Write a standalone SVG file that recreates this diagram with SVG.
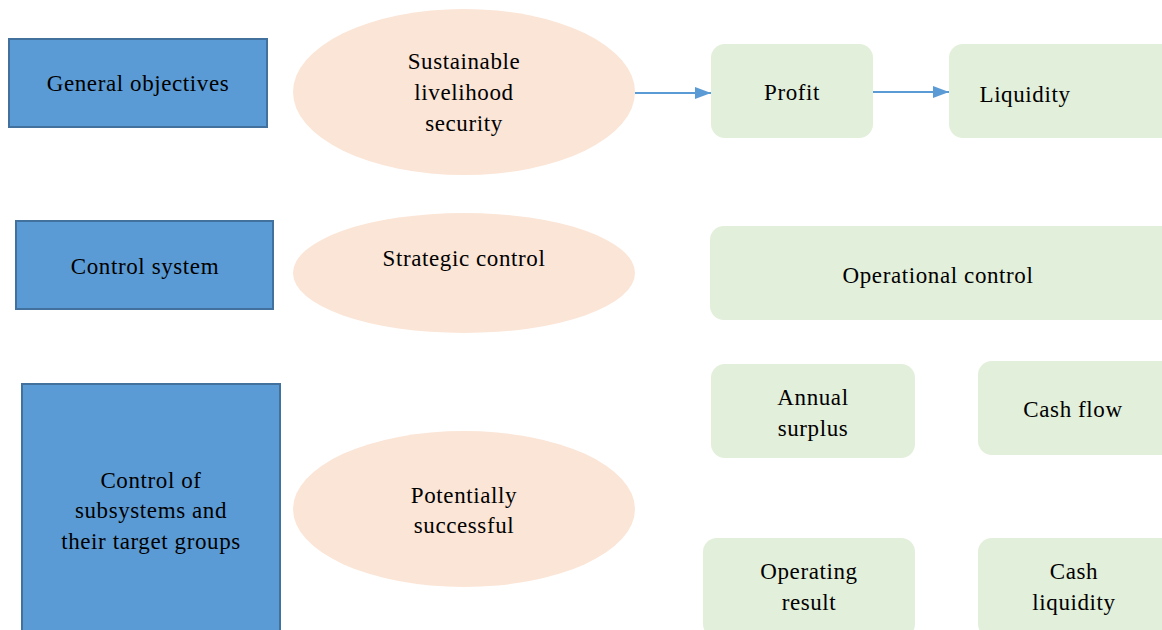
<svg xmlns="http://www.w3.org/2000/svg" width="1162" height="630" viewBox="0 0 1162 630">
<defs>
<style>
.blue{fill:#5b9bd5;stroke:#41719c;stroke-width:2}
.oval{fill:#fbe5d6}
.green{fill:#e2efda}
.conn{stroke:#5b9bd5;stroke-width:2;fill:none}
</style>
<marker id="arr" markerWidth="16" markerHeight="16" refX="16" refY="8" orient="auto" markerUnits="userSpaceOnUse">
<path d="M0,2 L16,8 L0,14 Z" fill="#5b9bd5"/>
</marker>
</defs>
<rect width="1162" height="630" fill="#fff"/>
<g font-family="'Liberation Serif', 'DejaVu Serif', serif" font-size="23" letter-spacing="0.6" fill="#000" text-anchor="middle">
<g id="general-objectives"><rect class="blue" x="9" y="39" width="258" height="88"/><text x="138" y="91">General objectives</text></g>
<g id="control-system"><rect class="blue" x="16" y="221" width="257" height="88"/><text x="145" y="274">Control system</text></g>
<g id="control-subsystems"><rect class="blue" x="22" y="384" width="258" height="256"/><text x="151" y="488">Control of</text><text x="151" y="518">subsystems and</text><text x="151" y="549">their target groups</text></g>
<g id="sustainable"><ellipse class="oval" cx="464" cy="92" rx="171" ry="83"/><text x="464" y="69">Sustainable</text><text x="464" y="100">livelihood</text><text x="464" y="131">security</text></g>
<g id="strategic"><ellipse class="oval" cx="464" cy="273" rx="171" ry="60"/><text x="464" y="266">Strategic control</text></g>
<g id="potentially"><ellipse class="oval" cx="464" cy="509" rx="171" ry="78"/><text x="464" y="503">Potentially</text><text x="464" y="533">successful</text></g>
<g id="profit"><rect class="green" x="711" y="44" width="162" height="94" rx="14"/><text x="792" y="100">Profit</text></g>
<g id="liquidity"><rect class="green" x="949" y="44" width="230" height="94" rx="14"/><text x="1025" y="102">Liquidity</text></g>
<g id="operational"><rect class="green" x="710" y="226" width="470" height="94" rx="14"/><text x="938" y="283">Operational control</text></g>
<g id="annual"><rect class="green" x="711" y="364" width="204" height="94" rx="14"/><text x="813" y="405">Annual</text><text x="813" y="436">surplus</text></g>
<g id="cashflow"><rect class="green" x="978" y="361" width="200" height="94" rx="14"/><text x="1073" y="417">Cash flow</text></g>
<g id="operating"><rect class="green" x="703" y="538" width="212" height="100" rx="14"/><text x="809" y="579">Operating</text><text x="809" y="610">result</text></g>
<g id="cashliquidity"><rect class="green" x="978" y="538" width="200" height="100" rx="14"/><text x="1074" y="579">Cash</text><text x="1074" y="610">liquidity</text></g>
</g>
<g id="connectors">
<line class="conn" x1="635" y1="93" x2="711" y2="93" marker-end="url(#arr)"/>
<line class="conn" x1="873" y1="92" x2="949" y2="92" marker-end="url(#arr)"/>
</g>
</svg>
